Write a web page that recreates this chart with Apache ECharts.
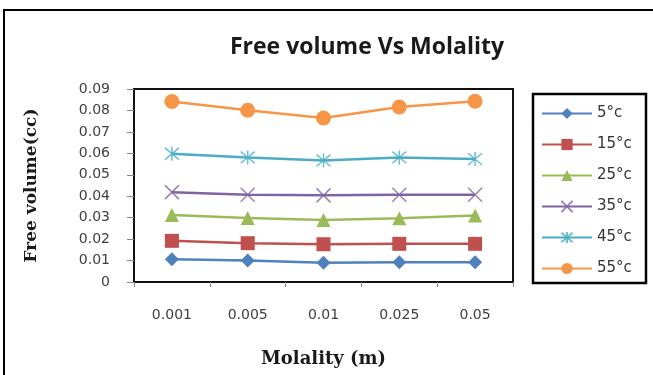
<!DOCTYPE html>
<html><head><meta charset="utf-8">
<script src="https://cdn.jsdelivr.net/npm/echarts@6/dist/echarts.min.js"></script>
<style>html,body{margin:0;padding:0;background:#fff}#c{width:653px;height:375px}</style>
</head><body><div id="c"></div>
<script>
var categories = ['0.001', '0.005', '0.01', '0.025', '0.05'];
var seriesNames = ['5°c', '15°c', '25°c', '35°c', '45°c', '55°c'];
var s5  = [0.0106, 0.0100, 0.0090, 0.0092, 0.0092];
var s15 = [0.0192, 0.0181, 0.0176, 0.0178, 0.0178];
var s25 = [0.0313, 0.0299, 0.0289, 0.0297, 0.0310];
var s35 = [0.0419, 0.0407, 0.0404, 0.0407, 0.0407];
var s45 = [0.0598, 0.0581, 0.0567, 0.0581, 0.0573];
var s55 = [0.0842, 0.0801, 0.0765, 0.0816, 0.0843];
var yTicks = ['0', '0.01', '0.02', '0.03', '0.04', '0.05', '0.06', '0.07', '0.08', '0.09'];

var colors = ['#4F81BD', '#C0504D', '#9BBB59', '#8064A2', '#4BACC6', '#F79646'];
var symbols = ['diamond', 'rect', 'triangle',
  'path://M0,0L10,10M10,0L0,10',
  'path://M0,0L10,10M10,0L0,10M5,-1L5,11',
  'circle'];
var sizes = [14, 14, 14, 14, 14, 15];
var allData = [s5, s15, s25, s35, s45, s55];

var chart = echarts.init(document.getElementById('c'), null, {renderer: 'canvas'});
var series = allData.map(function (d, i) {
  var stroke = (i === 3 || i === 4);
  return {
    name: seriesNames[i], type: 'line', data: d,
    symbol: symbols[i], symbolSize: sizes[i],
    lineStyle: {color: colors[i], width: 2.5},
    itemStyle: stroke ? {color: colors[i], borderColor: colors[i], borderWidth: 1.5, opacity: 0.8}
                      : {color: colors[i], borderColor: colors[i], borderWidth: 0},
    emphasis: {disabled: true}, animation: false, z: 3
  };
});

chart.setOption({
  animation: false,
  title: {text: 'Free volume Vs Molality', left: 362, top: 31, textAlign: 'center',
    textStyle: {fontFamily: 'Open Sans', fontWeight: 700, fontSize: 23, color: '#1a1a1a'}},
  grid: {left: 134, right: 140, top: 89, bottom: 93, show: true, borderColor: '#111', borderWidth: 2, backgroundColor: '#fff'},
  legend: {
    orient: 'vertical', left: 541, top: 106, padding: 0, itemWidth: 50, itemHeight: 14, itemGap: 16,
    data: seriesNames,
    textStyle: {fontFamily: 'DejaVu Sans', fontSize: 15, color: '#333'},
    selectedMode: false
  },
  xAxis: {
    type: 'category', data: categories, boundaryGap: true,
    name: 'Molality (m)', nameLocation: 'middle', nameGap: 68,
    nameTextStyle: {fontFamily: 'DejaVu Serif', fontWeight: 'bold', fontSize: 18, color: '#1a1a1a'},
    axisLine: {lineStyle: {color: '#111', width: 2}},
    axisTick: {show: true, alignWithLabel: false, length: 5, lineStyle: {color: '#888'}},
    axisLabel: {margin: 26, fontFamily: 'DejaVu Sans', fontSize: 14, color: '#404040'}
  },
  yAxis: {
    type: 'value', min: 0, max: 0.09, interval: 0.01,
    name: 'Free volume(cc)', nameLocation: 'middle', nameGap: 94,
    nameTextStyle: {fontFamily: 'DejaVu Serif', fontWeight: 'bold', fontSize: 17, color: '#1a1a1a'},
    axisLine: {show: true, lineStyle: {color: '#111', width: 2}},
    axisTick: {show: true, length: 7, lineStyle: {color: '#888'}},
    splitLine: {show: false},
    axisLabel: {margin: 24, fontFamily: 'DejaVu Sans', fontSize: 14, color: '#404040',
      formatter: function (v, idx) { return yTicks[idx]; }}
  },
  graphic: [
    {type: 'rect', shape: {x: 4, y: 10, width: 700, height: 400}, style: {fill: 'none', stroke: '#000', lineWidth: 2}, z: 0},
    {type: 'rect', shape: {x: 533, y: 94, width: 113, height: 189}, style: {fill: 'none', stroke: '#000', lineWidth: 2.5}, z: 10}
  ],
  series: series
});
</script></body></html>
